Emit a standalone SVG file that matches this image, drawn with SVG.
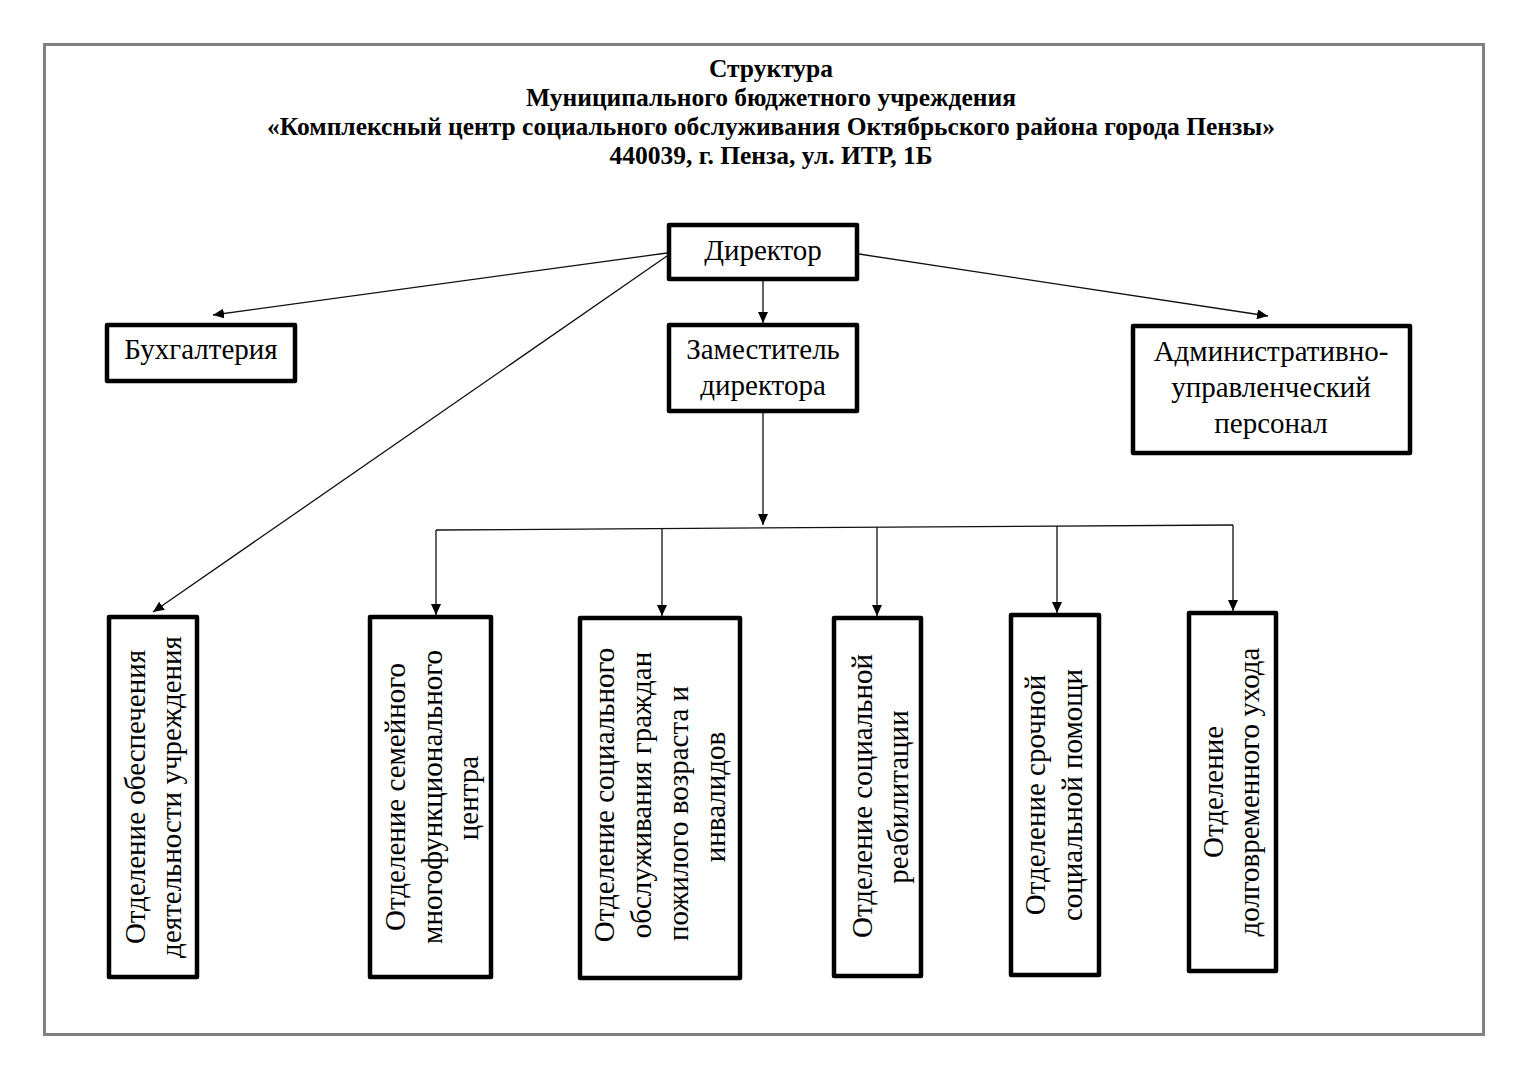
<svg xmlns="http://www.w3.org/2000/svg" width="1528" height="1080" viewBox="0 0 1528 1080">
<defs>
<style>
.frame{fill:none;stroke:#808080;stroke-width:3}
.box{fill:#fff;stroke:#000;stroke-width:4.5;stroke-linejoin:round}
.t{font-family:"Liberation Serif","Times New Roman",serif;font-size:29px;fill:#000;text-anchor:middle}
.s{text-anchor:start}
.title{font-family:"Liberation Serif","Times New Roman",serif;font-size:25.5px;font-weight:bold;fill:#000;text-anchor:middle}
.c{fill:none;stroke:#111;stroke-width:1.3}
</style>
<marker id="ah" markerUnits="userSpaceOnUse" markerWidth="11" markerHeight="10" refX="11" refY="5" orient="auto">
<path d="M0,0 L11,5 L0,10 z" fill="#000"/>
</marker>
</defs>
<rect width="1528" height="1080" fill="#fff"/>
<rect class="frame" x="44.5" y="44.5" width="1439" height="990"/>
<g id="title">
<text class="title" x="771" y="77">Структура</text>
<text class="title" x="771" y="106">Муниципального бюджетного учреждения</text>
<text class="title" x="771" y="135">«Комплексный центр социального обслуживания Октябрьского района города Пензы»</text>
<text class="title" x="771" y="164">440039, г. Пенза, ул. ИТР, 1Б</text>
</g>
<g id="connectors">
<path class="c" d="M667,253 L213,315" marker-end="url(#ah)"/>
<path class="c" d="M667,256 L153,612" marker-end="url(#ah)"/>
<path class="c" d="M859,254 L1268,316" marker-end="url(#ah)"/>
<path class="c" d="M763,281 L763,323" marker-end="url(#ah)"/>
<path class="c" d="M763,413 L763,525" marker-end="url(#ah)"/>
<path class="c" d="M436,530 L1233,525"/>
<path class="c" d="M436,530 L436,615" marker-end="url(#ah)"/>
<path class="c" d="M662,528.6 L662,616" marker-end="url(#ah)"/>
<path class="c" d="M877,527.2 L877,616" marker-end="url(#ah)"/>
<path class="c" d="M1057,526.1 L1057,613" marker-end="url(#ah)"/>
<path class="c" d="M1233,525 L1233,611" marker-end="url(#ah)"/>
</g>
<g id="director">
<rect class="box" x="669" y="225" width="188" height="54"/>
<text class="t" x="763" y="260">Директор</text>
</g>
<g id="deputy">
<rect class="box" x="669" y="325" width="188" height="86"/>
<text class="t" x="763" y="359">Заместитель</text>
<text class="t" x="763" y="395">директора</text>
</g>
<g id="accounting">
<rect class="box" x="107" y="325" width="188" height="56"/>
<text class="t" x="201" y="359">Бухгалтерия</text>
</g>
<g id="admin">
<rect class="box" x="1133" y="326" width="277" height="127"/>
<text class="t" x="1271" y="361">Административно-</text>
<text class="t" x="1271" y="397">управленческий</text>
<text class="t" x="1271" y="433">персонал</text>
</g>
<g id="dept1">
<rect class="box" x="109" y="617" width="88" height="360"/>
<text class="t" transform="translate(145,797) rotate(-90)">Отделение обеспечения</text>
<text class="t" transform="translate(181,797) rotate(-90)">деятельности учреждения</text>
</g>
<g id="dept2">
<rect class="box" x="370" y="617" width="121" height="360"/>
<text class="t" transform="translate(405,797) rotate(-90)">Отделение семейного</text>
<text class="t" transform="translate(442,797) rotate(-90)">многофункционального</text>
<text class="t" transform="translate(478,798) rotate(-90)">центра</text>
</g>
<g id="dept3">
<rect class="box" x="580" y="618" width="160" height="360"/>
<text class="t" transform="translate(614,795) rotate(-90)">Отделение социального</text>
<text class="t" transform="translate(651,795) rotate(-90)">обслуживания граждан</text>
<text class="t s" transform="translate(688,941) rotate(-90)">пожилого возраста и</text>
<text class="t" transform="translate(725,797) rotate(-90)">инвалидов</text>
</g>
<g id="dept4">
<rect class="box" x="834" y="618" width="87" height="358"/>
<text class="t" transform="translate(872,796) rotate(-90)">Отделение социальной</text>
<text class="t" transform="translate(908,797) rotate(-90)">реабилитации</text>
</g>
<g id="dept5">
<rect class="box" x="1011" y="615" width="88" height="360"/>
<text class="t" transform="translate(1045,795) rotate(-90)">Отделение срочной</text>
<text class="t" transform="translate(1082,795) rotate(-90)">социальной помощи</text>
</g>
<g id="dept6">
<rect class="box" x="1189" y="613" width="87" height="358"/>
<text class="t" transform="translate(1223,792) rotate(-90)">Отделение</text>
<text class="t" transform="translate(1259,792) rotate(-90)">долговременного ухода</text>
</g>
</svg>
